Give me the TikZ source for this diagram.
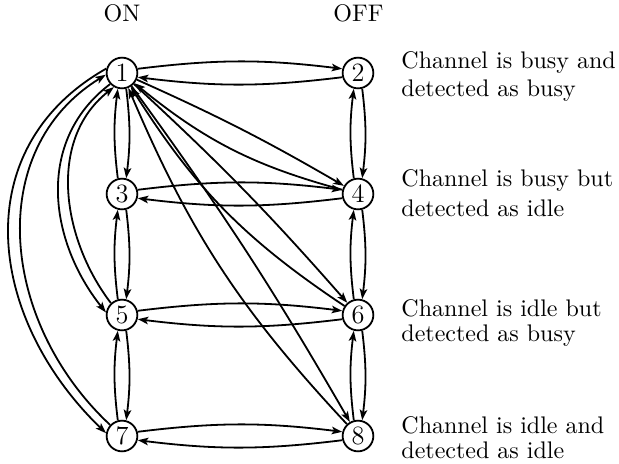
\documentclass[tikz,border=0pt]{standalone}
\usetikzlibrary{arrows.meta}
\begin{document}
\begin{tikzpicture}[x=0.4167pt,y=0.4167pt,
  state/.style={circle,draw,line width=0.75pt,minimum size=12.8pt,inner sep=0pt,
                font=\fontsize{11}{13}\selectfont},
  link/.style={line width=0.75pt,-{Stealth[length=4.4pt,width=3.1pt,inset=1pt]}},
  lbl/.style={anchor=base west,inner sep=0pt},
  head/.style={anchor=base,inner sep=0pt}]
\useasboundingbox (0,0) rectangle (619,-464);

% column headings
\node[head] (on)  at (122,-21.7) {ON};
\node[head] (off) at (358.5,-21.7) {OFF};

% states
\node[state] (n1) at (122,-73)  {1};
\node[state] (n2) at (358,-73)  {2};
\node[state] (n3) at (122,-194) {3};
\node[state] (n4) at (358,-194) {4};
\node[state] (n5) at (122,-315) {5};
\node[state] (n6) at (358,-315) {6};
\node[state] (n7) at (122,-436) {7};
\node[state] (n8) at (358,-436) {8};

% row descriptions
\node[lbl] (d1a) at (401,-68.3)  {Channel is busy and};
\node[lbl] (d1b) at (401,-96.7)  {detected as busy};
\node[lbl] (d2a) at (401,-186.7) {Channel is busy but};
\node[lbl] (d2b) at (401,-216.7) {detected as idle};
\node[lbl] (d3a) at (401,-316.7) {Channel is idle but};
\node[lbl] (d3b) at (401,-341.7) {detected as busy};
\node[lbl] (d4a) at (401,-433.3) {Channel is idle and};
\node[lbl] (d4b) at (401,-458.3) {detected as idle};

% horizontal neighbour pairs
\foreach \a/\b in {n1/n2,n3/n4,n5/n6,n7/n8}{
  \draw[link] (\a.15) to[bend left=7] (\b.165);
  \draw[link] (\b.-165) to[bend left=7] (\a.-15);
}
% vertical neighbour pairs
\foreach \a/\b in {n1/n3,n3/n5,n5/n7,n2/n4,n4/n6,n6/n8}{
  \draw[link] (\a.-75) to[bend left=7] (\b.75);
  \draw[link] (\b.105) to[bend left=7] (\a.-105);
}

% diagonals from state 1
\draw[link] (n1) to[bend left=3] (n4);
\draw[link] (n4) to[bend left=12] (n1);
\draw[link] (n1) to[bend left=3] (n6);
\draw[link] (n6) to[bend left=12] (n1);
\draw[link] (n1) to[bend left=3] (n8);
\draw[link] (n8) to[bend left=10] (n1);

% long arcs on the left
\draw[link] (n1.164) .. controls (-34,-148) and (-13.5,-317.5) .. (n7.170);
\draw[link] (n7.137) .. controls (0,-322) and (-16,-150) .. (n1.186);
\draw[link] (n1.223) .. controls (35,-141) and (49,-241) .. (n5.171);
\draw[link] (n5.133) .. controls (62,-239) and (47,-140) .. (n1.240);
\end{tikzpicture}
\end{document}
